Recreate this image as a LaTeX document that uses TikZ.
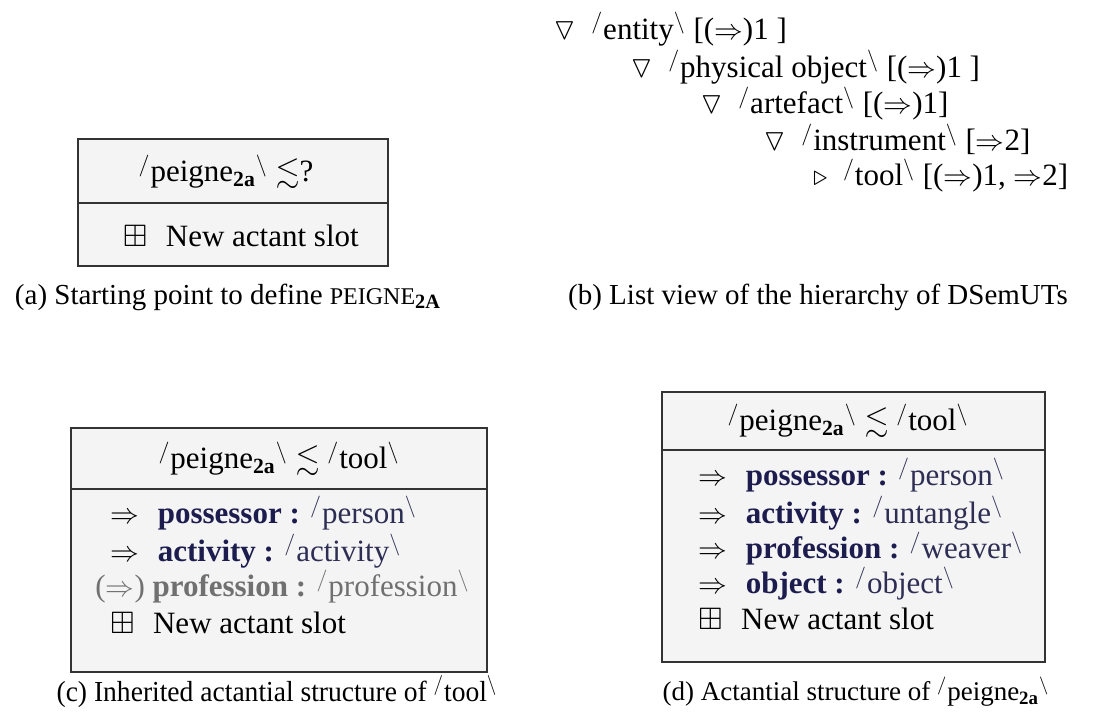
\documentclass[tikz,border=0pt]{standalone}
\usepackage{amssymb}
\usepackage{fontspec}
\setmainfont{Liberation Serif}
\usepackage{graphicx}
\definecolor{boxfill}{HTML}{F4F4F4}
\definecolor{boxline}{HTML}{333333}
\definecolor{slotblue}{HTML}{1C1C4E}
\definecolor{valblue}{HTML}{2E2E55}
\definecolor{slotgray}{HTML}{707070}
\newcommand{\sem}[1]{\smash{\ensuremath{{}^{/}}}#1\smash{\ensuremath{{}^{\backslash}}}}
\newcommand{\peigne}{peigne\textsubscript{\textbf{2a}}}
\newcommand{\slot}[2]{{\color{slotblue}\textbf{#1 :}} {\color{valblue}\sem{#2}}}
\newcommand{\imp}{$\Rightarrow$\hspace{0.6em}}

\begin{document}
\begin{tikzpicture}[x=0.5pt,y=-0.5pt,font=\fontsize{15.5}{17.5}\selectfont]
\tikzset{
  framebox/.style={draw=boxline,fill=boxfill,line width=1pt},
  rule/.style={draw=boxline,line width=1pt},
  entry/.style={anchor=west,inner sep=0pt},
  listentry/.style={anchor=west,inner sep=0pt,font=\fontsize{15.5}{17}\selectfont},
  captext/.style={font=\fontsize{14.5}{16}\selectfont}
}
\useasboundingbox (0,0) rectangle (1102,713);

%%%%% (a) %%%%%
\draw[framebox] (78,139) rectangle (388,266);
\draw[rule] (78,203) -- (388,203);
\node (ahead) at (226,174) {\sem{\peigne} $\lesssim$?};
\node (aslot) at (241,236) {$\boxplus$\hspace{0.6em}New actant slot};
\node[captext] (acap) at (228,297) {(a) Starting point to define {\fontsize{12}{14}\selectfont PEIGNE}\textsubscript{\textbf{2A}}};

%%%%% (b) %%%%%
\node[listentry] (lentity) at (553,32) {$\triangledown$\ \ \sem{entity} [($\Rightarrow$)1 ]};
\node[listentry] (lphys) at (630,70) {$\triangledown$\ \ \sem{physical object} [($\Rightarrow$)1 ]};
\node[listentry] (lartef) at (700,106) {$\triangledown$\ \ \sem{artefact} [($\Rightarrow$)1]};
\node[listentry] (linstr) at (763,142) {$\triangledown$\ \ \sem{instrument} [$\Rightarrow$2]};
\node[listentry] (ltool) at (813,178) {$\triangleright$\ \ \sem{tool} [($\Rightarrow$)1, $\Rightarrow$2]};
\node[captext] (bcap) at (818,297) {(b) List view of the hierarchy of DSemUTs};

%%%%% (c) %%%%%
\draw[framebox] (71,428) rectangle (487,672);
\draw[rule] (71,489) -- (487,489);
\node (chead) at (279,461) {\sem{\peigne} $\lesssim$ \sem{tool}};
\node[entry] (cposs) at (110,519) {\imp\slot{possessor}{person}};
\node[entry] (cact) at (110,554) {\imp\slot{activity}{activity}};
\node[entry,text=slotgray] (cprof) at (95,589) {($\Rightarrow$) \textbf{profession :} \sem{profession}};
\node[entry] (cnew) at (110,623) {$\boxplus$\hspace{0.6em}New actant slot};
\node[captext] (ccap) at (277,694) {\scalebox{0.95}[1]{(c) Inherited actantial structure of \sem{tool}}};

%%%%% (d) %%%%%
\draw[framebox] (662,392) rectangle (1045,662);
\draw[rule] (662,450) -- (1045,450);
\node (dhead) at (848,423) {\sem{\peigne} $\lesssim$ \sem{tool}};
\node[entry] (dposs) at (698,481) {\imp\slot{possessor}{person}};
\node[entry] (dact) at (698,516) {\imp\slot{activity}{untangle}};
\node[entry] (dprof) at (698,551) {\imp\slot{profession}{weaver}};
\node[entry] (dobj) at (698,586) {\imp\slot{object}{object}};
\node[entry] (dnew) at (698,619) {$\boxplus$\hspace{0.6em}New actant slot};
\node[captext,font=\fontsize{13.5}{15}\selectfont] (dcap) at (856,694) {(d) Actantial structure of \sem{\peigne}};
\end{tikzpicture}
\end{document}
